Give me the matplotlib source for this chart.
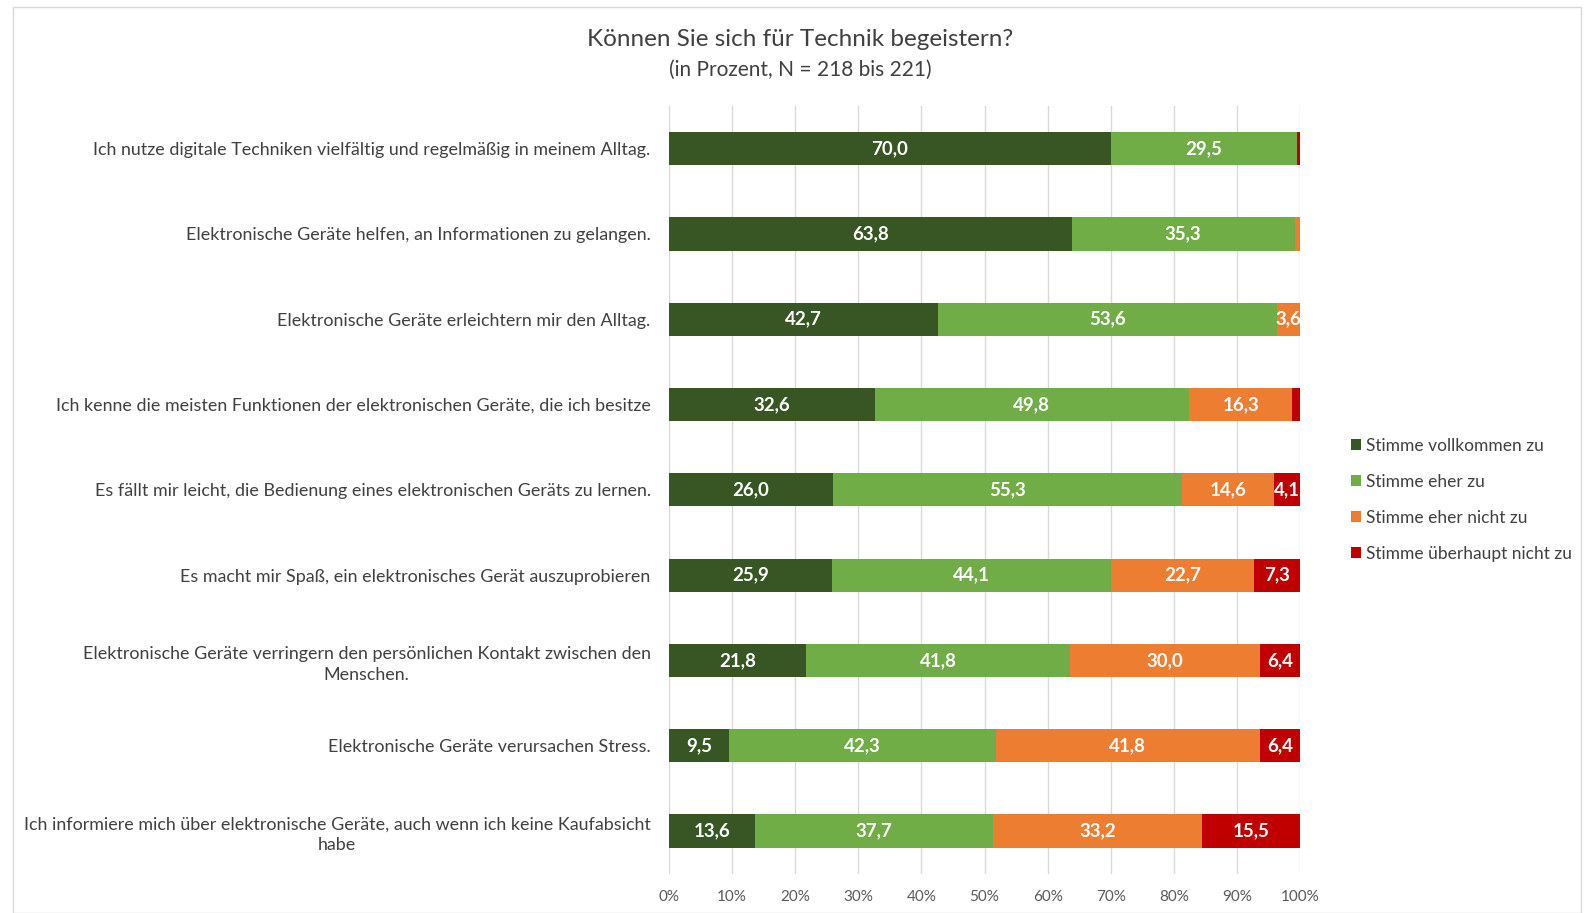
import numpy as np
import matplotlib.pyplot as plt
from matplotlib.patches import Rectangle

plt.rcParams['font.family'] = ['Lato', 'DejaVu Sans']

statements = [
    "Ich nutze digitale Techniken vielfältig und regelmäßig in meinem Alltag.",
    "Elektronische Geräte helfen, an Informationen zu gelangen.",
    "Elektronische Geräte erleichtern mir den Alltag.",
    "Ich kenne die meisten Funktionen der elektronischen Geräte, die ich besitze",
    "Es fällt mir leicht, die Bedienung eines elektronischen Geräts zu lernen.",
    "Es macht mir Spaß, ein elektronisches Gerät auszuprobieren",
    "Elektronische Geräte verringern den persönlichen Kontakt zwischen den\nMenschen.",
    "Elektronische Geräte verursachen Stress.",
    "Ich informiere mich über elektronische Geräte, auch wenn ich keine Kaufabsicht\nhabe",
]

voll = [70.0, 63.8, 42.7, 32.6, 26.0, 25.9, 21.8, 9.5, 13.6]
eher = [29.5, 35.3, 53.6, 49.8, 55.3, 44.1, 41.8, 42.3, 37.7]
eher_nicht = [0.0, 0.9, 3.6, 16.3, 14.6, 22.7, 30.0, 41.8, 33.2]
gar_nicht = [0.5, 0.0, 0.0, 1.3, 4.1, 7.3, 6.4, 6.4, 15.5]

series = ["Stimme vollkommen zu", "Stimme eher zu", "Stimme eher nicht zu", "Stimme überhaupt nicht zu"]
colors = ["#375623", "#70AD47", "#ED7D31", "#C00000"]

fig = plt.figure(figsize=(15.84, 9.13), dpi=100)
ax = fig.add_axes([0.4222, 0.043, 0.3987, 0.841])

# chart frame
fig.patches.append(Rectangle((0.008, 0.0), 0.99, 0.992, transform=fig.transFigure,
                             fill=False, edgecolor="#d9d9d9", linewidth=1))

y = np.arange(len(statements))
left = np.zeros(len(statements))
for vals, name, col in zip([voll, eher, eher_nicht, gar_nicht], series, colors):
    vals = np.array(vals)
    bars = ax.barh(y, vals, left=left, height=0.39, color=col, label=name, zorder=3)
    for b, v in zip(bars, vals):
        if v >= 3:
            ax.text(b.get_x() + b.get_width() / 2, b.get_y() + b.get_height() / 2,
                    f"{v:.1f}".replace(".", ","), ha="center", va="center",
                    color="white", fontsize=13.5, fontweight="bold", zorder=4,
                    clip_on=False)
    left += vals

ax.set_xlim(0, 100)
ax.set_ylim(len(statements) - 0.5, -0.5)
ax.set_xticks(np.arange(0, 101, 10))
ax.set_xticklabels([f"{t}%" for t in range(0, 101, 10)], color="#595959", fontsize=11)
ax.set_yticks(y)
ax.set_yticklabels(statements, fontsize=12.9, color="#404040", ha="right",
                   multialignment="center", linespacing=1.35)
ax.tick_params(axis="y", length=0, pad=13)
ax.tick_params(axis="x", length=0, pad=12)
ax.grid(axis="x", color="#d9d9d9", linewidth=1, zorder=0)
for s in ax.spines.values():
    s.set_visible(False)

fig.text(0.505, 0.957, "Können Sie sich für Technik begeistern?", ha="center",
         va="center", fontsize=17.5, color="#404040")
fig.text(0.505, 0.924, "(in Prozent, N = 218 bis 221)", ha="center", va="center",
         fontsize=15, color="#404040")

ax.legend(loc="center left", bbox_to_anchor=(1.055, 0.487), frameon=False,
          fontsize=12.5, labelcolor="#404040", handlelength=0.6, handleheight=0.6,
          handletextpad=0.3, labelspacing=1.15)

fig.savefig("out.png", dpi=100)
